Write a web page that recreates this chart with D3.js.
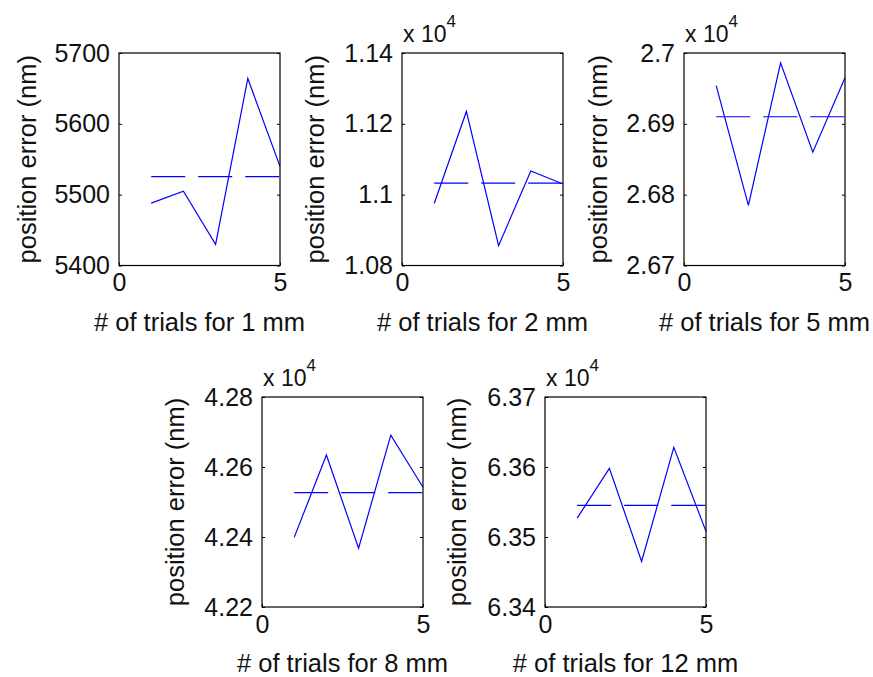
<!DOCTYPE html>
<html>
<head>
<meta charset="utf-8">
<script src="https://cdn.jsdelivr.net/npm/d3@7"></script>
<style>
  html, body { margin: 0; padding: 0; background: #fff; }
  svg { display: block; font-family: "Liberation Sans", Arial, sans-serif; }
</style>
</head>
<body>
<svg id="chart" width="873" height="677"></svg>
<script>
// Repeated position-error trials for five step sizes (nm)
const trials = [1, 2, 3, 4, 5];
const stepSizes = ["1 mm", "2 mm", "5 mm", "8 mm", "12 mm"];

const err1mm  = [5488, 5505, 5430, 5664, 5540];
const err2mm  = [10975, 11235, 10856, 11067, 11030];
const err5mm  = [26954, 26785, 26986, 26860, 26965];
const err8mm  = [42399, 42634, 42368, 42691, 42542];
const err12mm = [63527, 63598, 63465, 63628, 63508];

const yTicks1mm  = [5400, 5500, 5600, 5700];
const yTicks2mm  = [10800, 11000, 11200, 11400];
const yTicks5mm  = [26700, 26800, 26900, 27000];
const yTicks8mm  = [42200, 42400, 42600, 42800];
const yTicks12mm = [63400, 63500, 63600, 63700];
const yTickLabels1mm  = ["5400", "5500", "5600", "5700"];
const yTickLabels2mm  = ["1.08", "1.1", "1.12", "1.14"];
const yTickLabels5mm  = ["2.67", "2.68", "2.69", "2.7"];
const yTickLabels8mm  = ["4.22", "4.24", "4.26", "4.28"];
const yTickLabels12mm = ["6.34", "6.35", "6.36", "6.37"];
const yExponents = [0, 4, 4, 4, 4];

const xTicks = [0, 5];
const xLabelPrefix = "# of trials for ";
const yLabel = "position error (nm)";

const seriesList = [err1mm, err2mm, err5mm, err8mm, err12mm];
const tickList = [yTicks1mm, yTicks2mm, yTicks5mm, yTicks8mm, yTicks12mm];
const tickLabelList = [yTickLabels1mm, yTickLabels2mm, yTickLabels5mm, yTickLabels8mm, yTickLabels12mm];

// Subplot boxes (pixels); yLabelGap = distance from frame to y-label centre
const boxes = [
  { left: 119, top: 53,  width: 161, height: 212.5, yLabelGap: 92 },
  { left: 402, top: 53,  width: 161, height: 212.5, yLabelGap: 87 },
  { left: 684, top: 53,  width: 161, height: 212.5, yLabelGap: 86 },
  { left: 262, top: 397, width: 161, height: 210,   yLabelGap: 87 },
  { left: 545, top: 397, width: 161, height: 210,   yLabelGap: 88 }
];

const svg = d3.select("#chart");
svg.append("rect").attr("width", 873).attr("height", 677).attr("fill", "#fff");

const tickFont = 25;
const labelFont = 25.5;
const tickLen = 3;
const fontFamily = "'Liberation Sans', Arial, sans-serif";

seriesList.forEach((values, i) => {
  const b = boxes[i];
  const yt = tickList[i];
  const g = svg.append("g").attr("transform", `translate(${b.left},${b.top})`);

  const x = d3.scaleLinear().domain([xTicks[0], xTicks[xTicks.length - 1]]).range([0, b.width]);
  const y = d3.scaleLinear().domain([yt[0], yt[yt.length - 1]]).range([b.height, 0]);

  // data line
  const line = d3.line().x((d, k) => x(trials[k])).y(d => y(d));
  g.append("path")
    .datum(values)
    .attr("d", line)
    .attr("fill", "none")
    .attr("stroke", "#0000ff")
    .attr("stroke-width", 1.2);

  // mean line (dashed)
  const mean = d3.mean(values);
  g.append("line")
    .attr("x1", x(trials[0])).attr("x2", x(trials[trials.length - 1]))
    .attr("y1", y(mean)).attr("y2", y(mean))
    .attr("stroke", "#0000ff")
    .attr("stroke-width", 1.2)
    .attr("stroke-dasharray", "34,13");

  // left axis: labels + inward ticks
  const labels = tickLabelList[i];
  const leftAxis = d3.axisLeft(y).tickValues(yt)
    .tickFormat((d, k) => labels[k])
    .tickSizeInner(-tickLen).tickSizeOuter(0).tickPadding(9);
  const la = g.append("g").call(leftAxis);
  la.select(".domain").remove();
  la.selectAll(".tick line").attr("stroke", "#000");
  la.selectAll(".tick text")
    .attr("font-size", tickFont)
    .attr("font-family", fontFamily)
    .attr("fill", "#111");

  // right-side inward ticks
  const ra = g.append("g").attr("transform", `translate(${b.width},0)`)
    .call(d3.axisRight(y).tickValues(yt).tickFormat("").tickSizeInner(-tickLen).tickSizeOuter(0));
  ra.select(".domain").remove();
  ra.selectAll(".tick line").attr("stroke", "#000");

  // bottom axis
  const bottomAxis = d3.axisBottom(x).tickValues(xTicks).tickFormat(d3.format("d"))
    .tickSizeInner(-tickLen).tickSizeOuter(0).tickPadding(8);
  const ba = g.append("g").attr("transform", `translate(0,${b.height})`).call(bottomAxis);
  ba.select(".domain").remove();
  ba.selectAll(".tick line").attr("stroke", "#000");
  ba.selectAll(".tick text")
    .attr("font-size", tickFont)
    .attr("font-family", fontFamily)
    .attr("fill", "#111");

  // frame
  g.append("rect")
    .attr("x", 0).attr("y", 0)
    .attr("width", b.width).attr("height", b.height)
    .attr("fill", "none")
    .attr("stroke", "#000")
    .attr("stroke-width", 1.2);

  // x label
  g.append("text")
    .attr("x", b.width / 2)
    .attr("y", b.height + 65)
    .attr("text-anchor", "middle")
    .attr("font-size", labelFont)
    .attr("fill", "#111")
    .text(xLabelPrefix + stepSizes[i]);

  // y label
  g.append("text")
    .attr("transform", `translate(${-b.yLabelGap},${b.height / 2}) rotate(-90)`)
    .attr("text-anchor", "middle")
    .attr("dominant-baseline", "central")
    .attr("font-size", labelFont)
    .attr("fill", "#111")
    .text(yLabel);

  // exponent annotation
  if (yExponents[i] !== 0) {
    const t = g.append("text")
      .attr("x", 1)
      .attr("y", -11)
      .attr("font-size", 23)
      .attr("fill", "#111");
    t.append("tspan").text("x 10");
    t.append("tspan")
      .attr("dy", -15)
      .attr("font-size", 17)
      .text(yExponents[i]);
  }
});
</script>
</body>
</html>
